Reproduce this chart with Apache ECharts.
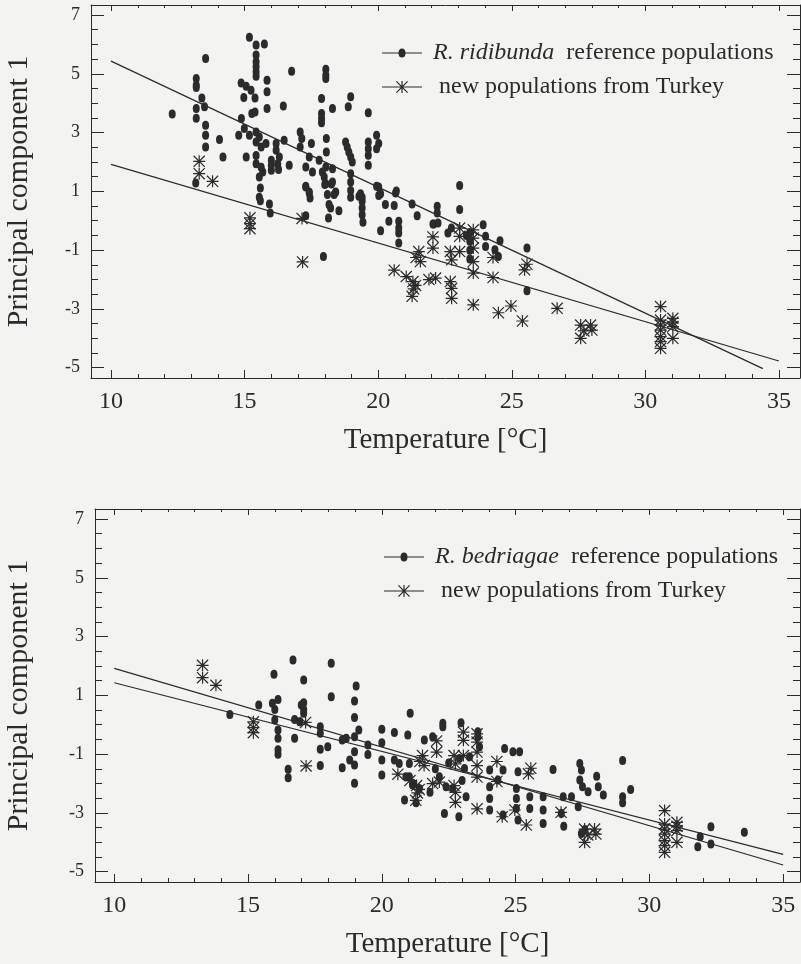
<!DOCTYPE html>
<html>
<head>
<meta charset="utf-8">
<script src="https://cdn.jsdelivr.net/npm/echarts@6/dist/echarts.min.js"></script>
<style>
  html, body { margin: 0; padding: 0; background: #f3f3f1; }
  #chart { width: 801px; height: 964px; }
</style>
</head>
<body>
<div id="chart"></div>
<script>
// tick values
const xMajorTicks = [10, 15, 20, 25, 30, 35];
const xMinorTicks = [11, 12, 13, 14, 16, 17, 18, 19, 21, 22, 23, 24, 26, 27, 28, 29, 31, 32, 33, 34];
const yMajorTicks = [-5, -3, -1, 1, 3, 5, 7];
const yMinorTicks = [-4.5, -4, -3.5, -2.5, -2, -1.5, -0.5, 0, 0.5, 1.5, 2, 2.5, 3.5, 4, 4.5, 5.5, 6, 6.5];

// R. ridibunda reference populations (temperature, PC1)
const ridibundaPoints = [
  [15.18,6.24],[15.43,5.98],[15.74,6.01],[15.43,5.64],[15.43,5.41],[15.43,5.24],[15.43,5.07],[15.43,4.92],
  [13.54,5.52],[16.76,5.09],[18.04,5.15],[18.04,4.95],[18.04,4.84],[13.19,4.84],[13.19,4.61],[13.19,4.53],
  [14.87,4.69],[15.06,4.58],[15.24,4.44],[15.84,4.78],[15.84,4.39],[14.97,4.19],[15.39,4.18],[13.4,4.18],
  [13.19,3.82],[13.5,3.88],[13.19,3.49],[12.29,3.63],[15.39,3.7],[15.27,3.65],[15.84,3.82],[16.45,3.9],
  [17.88,4.16],[18.97,4.22],[18.88,3.88],[18.29,3.82],[17.88,3.65],[17.88,3.48],[17.88,3.33],[19.63,3.67],
  [14.88,3.48],[13.54,3.25],[13.54,2.91],[13.54,2.51],[14.06,2.76],[14.19,2.17],[14.99,3.14],[14.78,2.91],
  [15.18,2.91],[15.43,3.02],[15.55,2.85],[15.43,2.68],[15.62,2.51],[15.8,2.63],[16.18,2.63],[16.18,2.4],
  [16.3,2.17],[16.24,1.94],[16.27,1.74],[16.48,2.74],[16.67,1.89],[17.08,3.02],[17.14,2.8],[17.08,2.51],
  [17.5,2.63],[17.42,2.17],[18.06,2.8],[18.06,2.34],[17.79,2.06],[18.04,1.83],[18.29,1.77],[15.43,2.22],
  [15.43,1.94],[15.62,1.82],[15.68,1.66],[15.55,1.49],[15.06,2.17],[16.0,2.06],[16.0,1.89],[16.0,1.72],
  [17.29,1.83],[17.29,1.15],[17.42,0.98],[17.54,1.66],[17.91,1.66],[17.98,1.49],[18.04,1.26],[18.29,1.32],
  [18.41,0.98],[18.78,2.68],[18.84,2.51],[18.9,2.34],[18.97,2.17],[19.03,2.0],[19.63,2.68],[19.63,2.45],
  [19.63,2.23],[19.63,1.89],[19.94,2.91],[20.02,2.63],[19.94,2.45],[18.97,1.6],[18.97,1.32],[18.97,1.03],
  [19.34,0.92],[19.4,0.8],[20.02,1.15],[20.09,0.92],[20.68,1.01],[15.55,0.8],[13.17,1.28],
  [15.59,1.11],[15.59,0.68],[15.93,0.57],[15.96,0.26],[17.29,0.17],[17.95,-1.22],[17.29,1.17],[17.42,0.94],
  [17.45,0.77],[18.0,1.23],[18.25,1.25],[18.1,0.89],[18.35,0.89],[18.16,0.55],[18.22,0.43],[18.53,0.34],
  [18.14,0.09],[18.97,0.8],[19.28,0.83],[19.4,0.66],[19.4,0.43],[19.4,0.2],[19.43,-0.05],[19.94,1.17],
  [20.02,0.86],[20.65,0.94],[20.6,0.52],[20.27,0.55],[20.4,-0.02],[20.09,-0.34],[20.77,-0.02],[20.77,-0.25],
  [20.77,-0.42],[20.77,-0.76],[21.27,0.57],[21.46,0.17],[22.08,-0.11],
  [23.05,1.2],[23.05,0.38],[22.21,0.49],[22.21,0.26],[22.05,-0.11],[22.24,-0.08],[22.61,-0.42],[22.74,-0.25],
  [23.93,-0.14],[24.02,-0.53],[24.02,-0.88],[24.37,-0.99],[24.5,-1.22],[24.56,-0.68],[25.57,-0.93],[25.57,-2.38],
  [23.43,-0.4],[23.43,-0.7],[23.43,-1.0],[23.43,-1.3],[23.3,-0.5]
];

// R. bedriagae reference populations
const bedriagaePoints = [
  [15.97,1.72],[16.68,2.2],[17.08,1.52],[18.11,2.09],[19.04,1.32],
  [14.32,0.35],[15.4,0.67],[15.91,0.73],[16.12,0.86],[16.0,0.52],[16.0,0.16],[16.12,-0.18],[16.12,-0.46],
  [16.12,-0.85],[16.12,-1.0],[16.5,-1.51],[16.5,-1.8],[16.74,0.18],[16.74,-0.46],[16.93,0.1],[16.99,0.67],
  [17.08,0.75],[17.08,0.52],[17.08,0.39],[17.7,-0.07],[17.7,-0.29],[17.7,-0.83],[17.98,-0.75],[17.7,-1.39],
  [18.11,0.95],[18.52,-0.52],[18.67,-0.46],[18.8,-1.2],[18.98,-1.37],[18.52,-1.46],[18.98,-1.99],[18.98,0.81],
  [18.98,0.25],[18.98,-0.41],[18.98,-0.92],[19.14,-0.18],[19.48,-0.69],[19.48,-1.01],[20.0,-0.15],[20.0,-0.61],
  [20.0,-1.2],[20.0,-1.71],[20.47,-0.26],[20.97,-0.35],[21.06,0.39],[20.47,-1.2],[20.65,-1.32],[20.85,-2.56],
  [21.28,-2.65],[21.03,-1.32],[21.03,-1.77],[21.16,-1.99],[21.59,-0.52],[21.9,-0.41],
  [22.28,-0.07],[22.28,0.05],[22.96,0.07],[22.34,-3.02],[22.88,-3.13],[23.15,-2.45],[24.03,-2.9],[24.53,-3.07],
  [25.09,-3.24],[20.9,-1.77],[21.15,-2.05],[21.4,-2.17],[22.15,-1.77],[22.4,-2.11],[22.65,-2.17],[22.9,-1.15],
  [23.28,-1.09],[23.09,-1.49],[24.03,-1.54],[24.03,-2.11],[24.03,-2.51],[24.34,-1.88],[24.53,-1.54],[24.59,-0.81],
  [24.9,-0.92],[25.15,-0.92],[25.09,-1.6],[25.03,-2.17],[25.03,-2.51],[25.03,-2.85],[25.53,-2.45],[25.53,-2.85],
  [26.03,-2.45],[26.03,-2.9],[26.03,-3.36],[26.4,-1.52],[26.78,-2.45],[27.09,-2.45],[26.8,-3.45],[26.71,-3.02],
  [27.4,-1.32],[27.46,-1.54],[27.4,-1.88],[27.5,-2.11],[27.34,-2.79],[27.71,-2.28],[28.03,-1.75],[28.09,-2.11],
  [28.28,-2.39],[29.0,-1.22],[29.0,-2.45],[29.0,-2.65],[29.3,-2.2],[27.46,-3.7],[27.59,-3.56],[31.9,-3.81],
  [31.81,-4.15],[32.3,-4.06],[32.3,-3.47],[33.55,-3.66],[23.59,-0.24],[23.59,-0.41],[23.65,-0.75],[22.0,-1.5],
  [22.5,-1.3],[23.0,-1.9],[21.8,-2.3]
];

// new populations from Turkey (same in both panels)
const turkeyPoints = [
  [13.3,2.02],[13.3,1.6],[13.8,1.34],[15.2,0.1],[15.2,-0.1],[15.2,-0.27],[17.15,0.08],[17.17,-1.4],
  [20.6,-1.68],[21.05,-1.9],[21.3,-2.07],[21.4,-2.2],[21.33,-2.32],[21.27,-2.57],[21.52,-1.05],[21.42,-1.25],
  [21.58,-1.39],[21.9,-2.0],[22.15,-1.95],[22.05,-0.55],[22.05,-0.93],[22.7,-1.05],[22.75,-1.33],[23.05,-1.05],
  [22.7,-2.07],[22.75,-2.3],[22.75,-2.64],[23.05,-0.25],[23.05,-0.53],[23.56,-0.31],[23.56,-0.59],[23.56,-0.93],
  [23.56,-1.39],[23.56,-1.78],[24.3,-1.25],[24.3,-1.93],[23.56,-2.86],[24.5,-3.13],[24.97,-2.9],[25.4,-3.41],
  [25.48,-1.67],[25.57,-1.48],[26.7,-2.98],[27.58,-3.55],[27.58,-4.0],[27.95,-3.55],[28.0,-3.72],[27.7,-3.75],
  [30.57,-2.92],[30.57,-3.38],[30.57,-3.55],[30.57,-3.72],[30.57,-3.94],[30.57,-4.11],[30.57,-4.34],
  [31.03,-3.32],[31.03,-3.45],[31.03,-3.6],[31.03,-4.0]
];

// regression lines, end points
const ridibundaFit = [[10, 5.43], [34.4, -5.03]];
const bedriagaeFit = [[10, 1.43], [35, -4.41]];
const turkeyFit = [[10, 1.92], [35, -4.77]];

const ridibundaName = 'R. ridibunda reference populations';
const bedriagaeName = 'R. bedriagae reference populations';
const turkeyName = 'new populations from Turkey';

const ink = '#2b2b2b';
const serif = '"Liberation Serif", "Times New Roman", serif';

// asterisk made of four thin bars, 12x12
const starPath = 'path://M5.4,0H6.6V12H5.4Z M0,5.4H12V6.6H0Z M0.85,0L12,11.15L11.15,12L0,0.85Z M11.15,0L12,0.85L0.85,12L0,11.15Z';
const dotIcon = 'path://M0,4H40V5H0Z M16.5,4.5A3.5,4.5 0 1 1 23.5,4.5A3.5,4.5 0 1 1 16.5,4.5Z';
const starIcon = 'path://M0,5.4H40V6.6H0Z M19.4,0H20.6V12H19.4Z M14,5.4H26V6.6H14Z M14.85,0L26,11.15L25.15,12L14,0.85Z M25.15,0L26,0.85L14.85,12L14,11.15Z';

function xAxesFor(grid, min, max) {
  const base = { type: 'value', gridIndex: grid, min: min, max: max, splitLine: { show: false } };
  return [
    Object.assign({}, base, {
      position: 'bottom',
      axisLine: { show: true, onZero: false, lineStyle: { color: ink, width: 1 } },
      axisTick: { show: true, inside: true, length: 8, customValues: xMajorTicks, lineStyle: { color: ink } },
      axisLabel: { show: true, customValues: xMajorTicks, margin: 12, color: ink, fontFamily: serif, fontSize: 24 },
      name: 'Temperature [°C]', nameLocation: 'middle', nameGap: 48, nameMoveOverlap: false,
      nameTextStyle: { color: ink, fontFamily: serif, fontSize: 29 }
    }),
    Object.assign({}, base, {
      position: 'bottom',
      axisLine: { show: false, onZero: false },
      axisTick: { show: true, inside: true, length: 4, customValues: xMinorTicks, lineStyle: { color: ink } },
      axisLabel: { show: false }
    }),
    Object.assign({}, base, {
      position: 'top',
      axisLine: { show: true, onZero: false, lineStyle: { color: ink, width: 1 } },
      axisTick: { show: true, inside: true, length: 6, customValues: xMajorTicks, lineStyle: { color: ink } },
      axisLabel: { show: false }
    }),
    Object.assign({}, base, {
      position: 'top',
      axisLine: { show: false, onZero: false },
      axisTick: { show: true, inside: true, length: 3, customValues: xMinorTicks, lineStyle: { color: ink } },
      axisLabel: { show: false }
    })
  ];
}

function yAxesFor(grid, min, max, gap) {
  const base = { type: 'value', gridIndex: grid, min: min, max: max, splitLine: { show: false } };
  return [
    Object.assign({}, base, {
      position: 'left',
      axisLine: { show: true, onZero: false, lineStyle: { color: ink, width: 1 } },
      axisTick: { show: true, inside: true, length: 13, customValues: yMajorTicks, lineStyle: { color: ink } },
      axisLabel: { show: true, customValues: yMajorTicks, margin: 11, color: ink, fontFamily: serif, fontSize: 18 },
      name: 'Principal component 1', nameLocation: 'middle', nameGap: gap, nameMoveOverlap: false,
      nameTextStyle: { color: ink, fontFamily: serif, fontSize: 30 }
    }),
    Object.assign({}, base, {
      position: 'left',
      axisLine: { show: false, onZero: false },
      axisTick: { show: true, inside: true, length: 7, customValues: yMinorTicks, lineStyle: { color: ink } },
      axisLabel: { show: false }
    }),
    Object.assign({}, base, {
      position: 'right',
      axisLine: { show: true, onZero: false, lineStyle: { color: ink, width: 1 } },
      axisTick: { show: true, inside: true, length: 13, customValues: yMajorTicks, lineStyle: { color: ink } },
      axisLabel: { show: false }
    }),
    Object.assign({}, base, {
      position: 'right',
      axisLine: { show: false, onZero: false },
      axisTick: { show: true, inside: true, length: 7, customValues: yMinorTicks, lineStyle: { color: ink } },
      axisLabel: { show: false }
    })
  ];
}

function legendFor(top, left, names) {
  return {
    orient: 'vertical', top: top, left: left,
    itemWidth: 40, itemHeight: 12, itemGap: 10,
    selectedMode: false,
    data: [{ name: names[0], icon: dotIcon }, { name: names[1], icon: starIcon }],
    formatter: function (name) {
      if (name === ridibundaName) return ' {i|R. ridibunda}  reference populations';
      if (name === bedriagaeName) return ' {i|R. bedriagae}  reference populations';
      return '  ' + name;
    },
    textStyle: {
      color: ink, fontFamily: serif, fontSize: 24,
      rich: { i: { color: ink, fontFamily: serif, fontSize: 24, fontStyle: 'italic' } }
    }
  };
}

function scatter(name, data, axis, star) {
  return {
    name: name, type: 'scatter', xAxisIndex: axis * 4, yAxisIndex: axis * 4, data: data,
    symbol: star ? starPath : 'circle', symbolSize: star ? 12 : [7, 9],
    itemStyle: { color: ink, opacity: 1 }, z: star ? 4 : 3
  };
}

function fitLine(name, data, axis) {
  return {
    name: name, type: 'line', xAxisIndex: axis * 4, yAxisIndex: axis * 4, data: data,
    showSymbol: false, symbol: 'none', lineStyle: { color: ink, width: 1.2 }, z: 5
  };
}

const chart = echarts.init(document.getElementById('chart'), null, { renderer: 'canvas' });
chart.setOption({
  backgroundColor: '#f3f3f1',
  animation: false,
  grid: [
    { left: 91, top: 5, width: 709, height: 373, outerBoundsMode: 'none' },
    { left: 95, top: 509, width: 705, height: 373, outerBoundsMode: 'none' }
  ],
  xAxis: xAxesFor(0, 9.25, 35.79).concat(xAxesFor(1, 9.28, 35.63)),
  yAxis: yAxesFor(0, -5.35, 7.34, 57).concat(yAxesFor(1, -5.35, 7.34, 61)),
  legend: [
    legendFor(36, 377, [ridibundaName, turkeyName]),
    legendFor(540, 379, [bedriagaeName, turkeyName])
  ],
  series: [
    scatter(ridibundaName, ridibundaPoints, 0, false),
    scatter(turkeyName, turkeyPoints, 0, true),
    fitLine('ridibunda fit', ridibundaFit, 0),
    fitLine('turkey fit top', turkeyFit, 0),
    scatter(bedriagaeName, bedriagaePoints, 1, false),
    scatter(turkeyName, turkeyPoints, 1, true),
    fitLine('bedriagae fit', bedriagaeFit, 1),
    fitLine('turkey fit bottom', turkeyFit, 1)
  ]
});
</script>
</body>
</html>
